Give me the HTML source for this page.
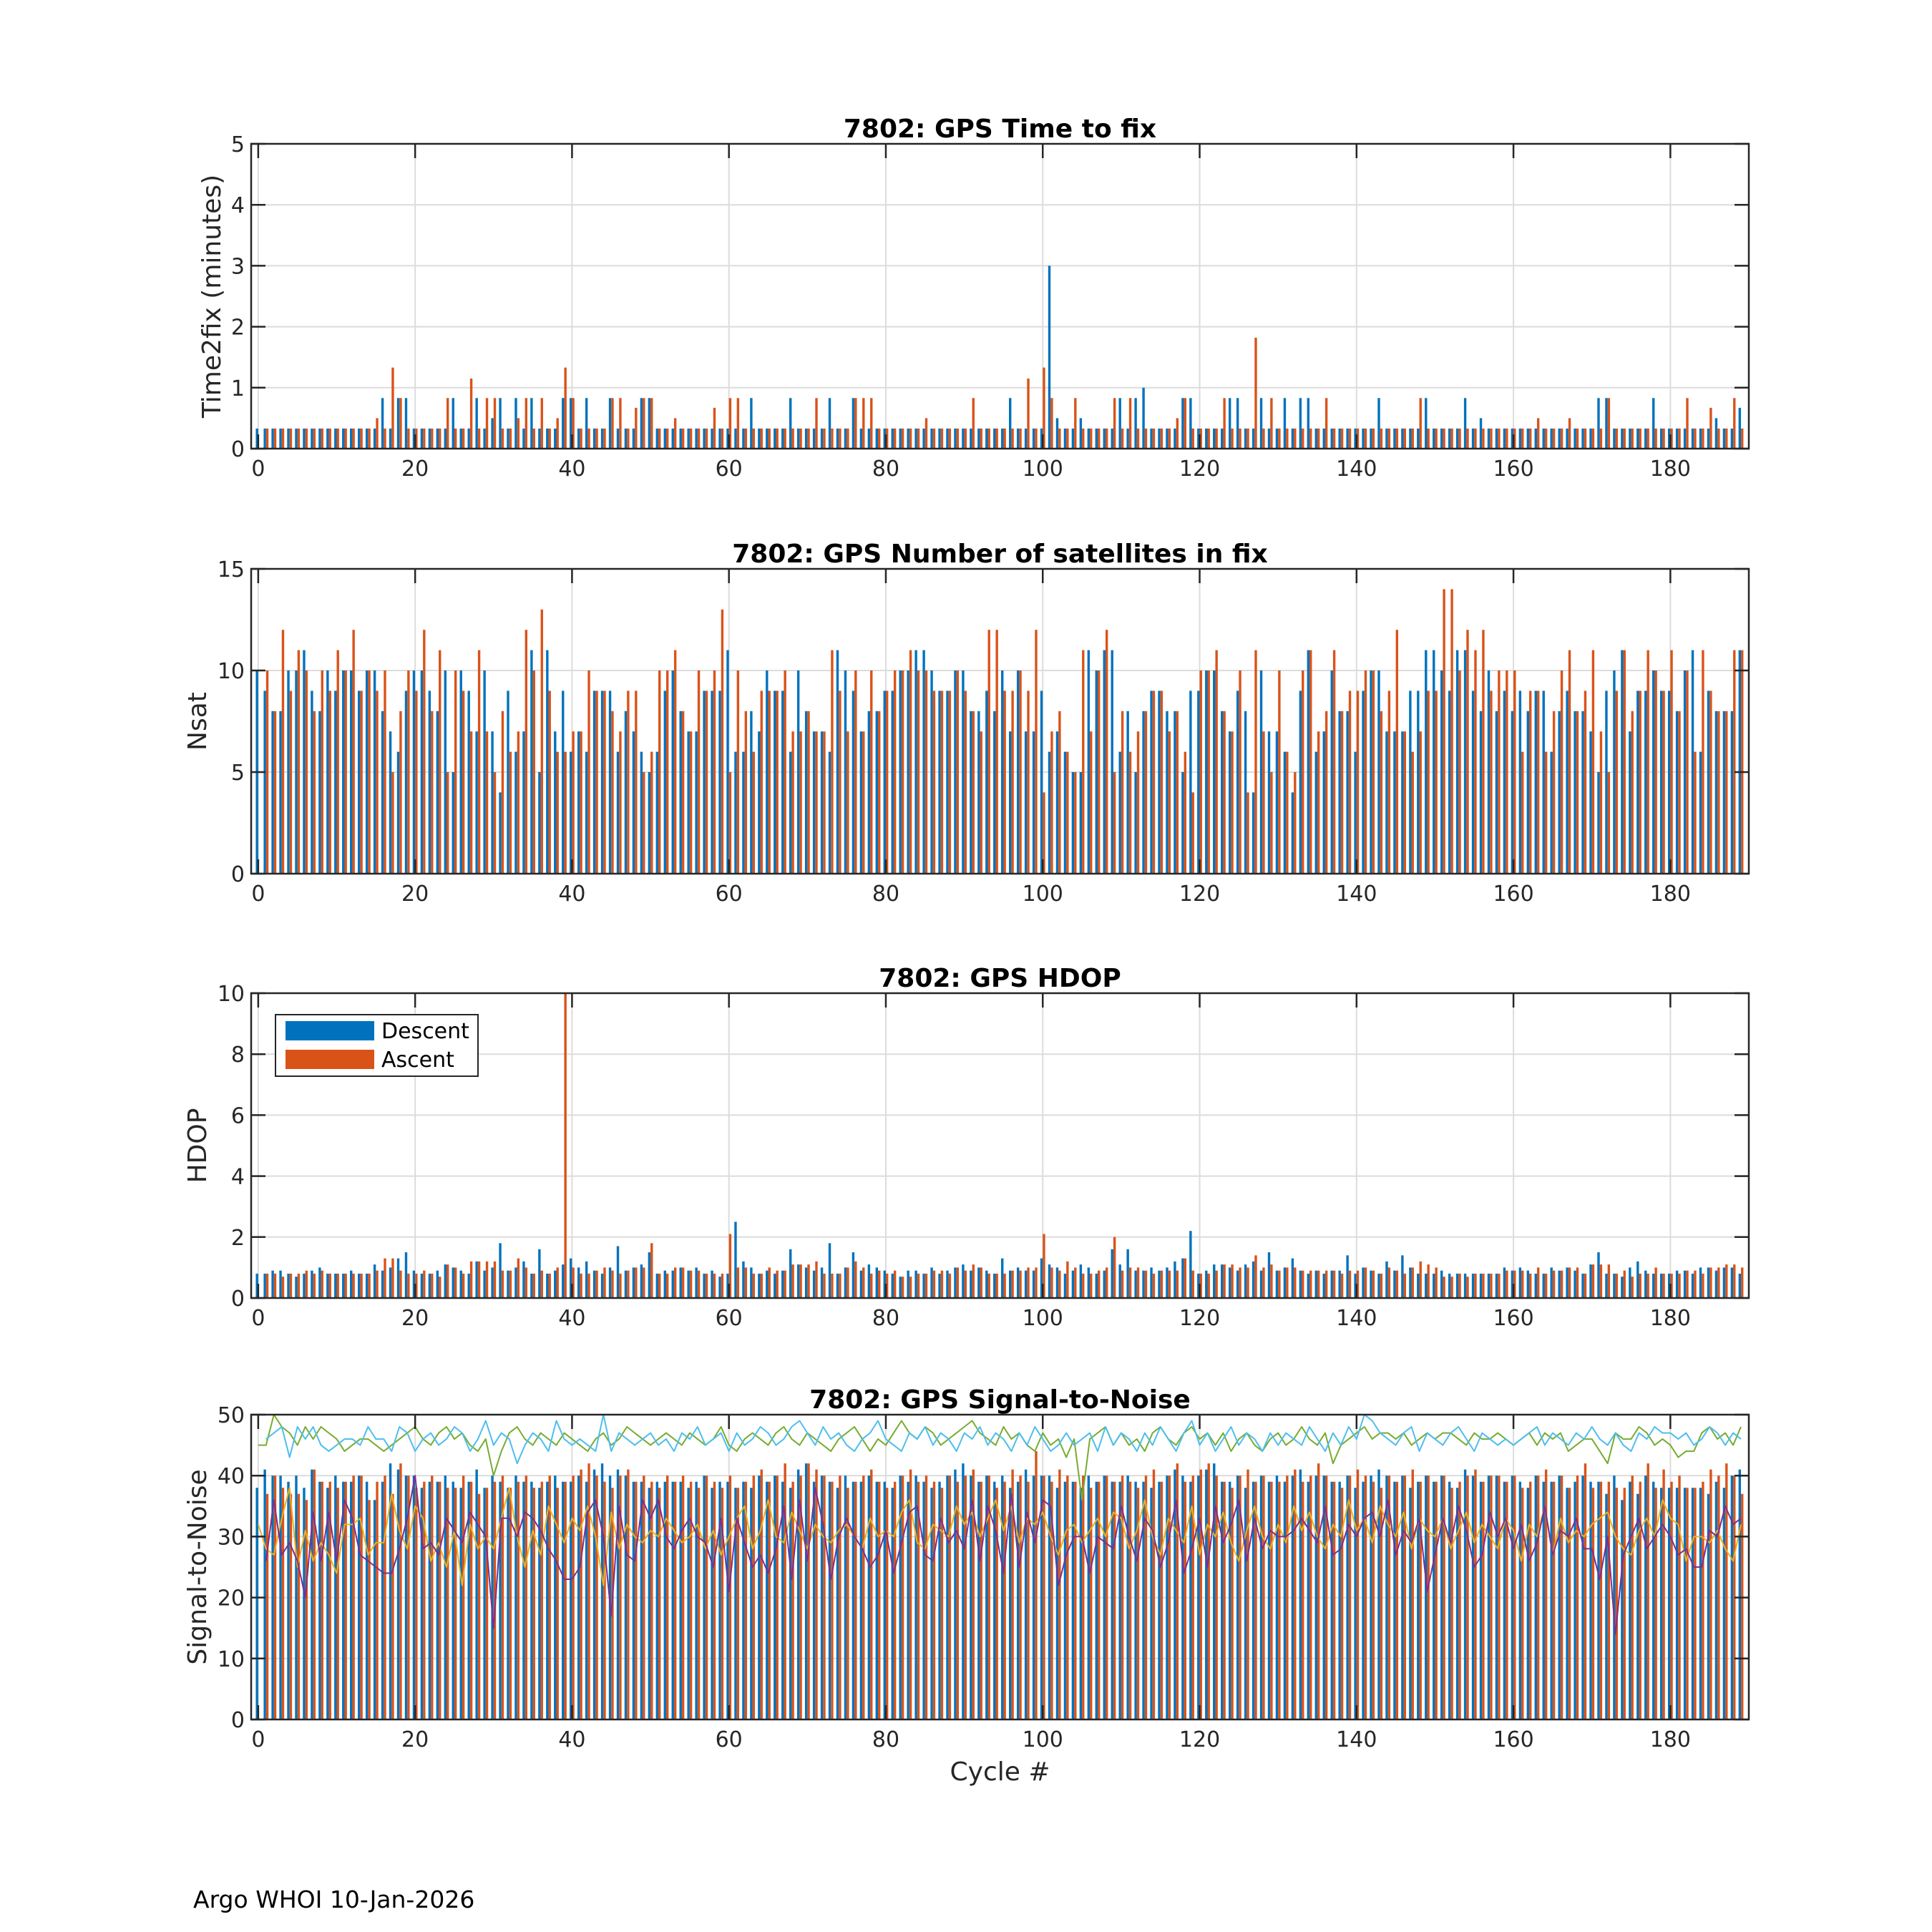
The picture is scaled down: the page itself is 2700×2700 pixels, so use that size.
<!DOCTYPE html>
<html><head><meta charset="utf-8">
<style>
html,body{margin:0;padding:0;background:#fff;}
svg{display:block;font-family:"DejaVu Sans","Liberation Sans",sans-serif;}
</style></head>
<body>
<svg id="fig" width="2700" height="2700" viewBox="0 0 2700 2700" xmlns="http://www.w3.org/2000/svg">
<rect x="0" y="0" width="2700" height="2700" fill="#fff"/>
<text x="270" y="2666" font-size="33" fill="#000">Argo WHOI 10-Jan-2026</text>
</svg>
<script>
// ---------- DATA ----------
const xTicks = [0,20,40,60,80,100,120,140,160,180];
const t2fTicks = [0,1,2,3,4,5];
const nsatTicks = [0,5,10,15];
const hdopTicks = [0,2,4,6,8,10];
const snrTicks = [0,10,20,30,40,50];

const t2fDescent = [
.33,.33,.33,.33,.33,.33,.33,.33,.33,.33,
.33,.33,.33,.33,.33,.33,.83,.33,.83,.83,
.33,.33,.33,.33,.33,.83,.33,.33,.83,.33,
.5,.83,.33,.83,.33,.83,.33,.33,.33,.83,
.83,.33,.83,.33,.33,.83,.33,.33,.33,.83,
.83,.33,.33,.33,.33,.33,.33,.33,.33,.33,
.33,.33,.33,.83,.33,.33,.33,.33,.83,.33,
.33,.33,.33,.83,.33,.33,.83,.33,.33,.33,
.33,.33,.33,.33,.33,.33,.33,.33,.33,.33,
.33,.33,.33,.33,.33,.33,.83,.33,.33,.33,
.33,3.0,.5,.33,.33,.5,.33,.33,.33,.33,
.83,.33,.83,1.0,.33,.33,.33,.33,.83,.83,
.33,.33,.33,.33,.83,.83,.33,.33,.83,.33,
.33,.83,.33,.83,.83,.33,.33,.33,.33,.33,
.33,.33,.33,.83,.33,.33,.33,.33,.33,.83,
.33,.33,.33,.33,.83,.33,.5,.33,.33,.33,
.33,.33,.33,.33,.33,.33,.33,.33,.33,.33,
.33,.83,.83,.33,.33,.33,.33,.33,.83,.33,
.33,.33,.33,.33,.33,.33,.5,.33,.33,.67];
const t2fAscent = [
0,.33,.33,.33,.33,.33,.33,.33,.33,.33,
.33,.33,.33,.33,.33,.5,.33,1.33,.83,.33,
.33,.33,.33,.33,.83,.33,.33,1.15,.33,.83,
.83,.33,.33,.5,.83,.33,.83,.33,.5,1.33,
.83,.33,.33,.33,.33,.83,.83,.33,.67,.83,
.83,.33,.33,.5,.33,.33,.33,.33,.67,.33,
.83,.83,.33,.33,.33,.33,.33,.33,.33,.33,
.33,.83,.33,.33,.33,.33,.83,.83,.83,.33,
.33,.33,.33,.33,.33,.5,.33,.33,.33,.33,
.33,.83,.33,.33,.33,.33,.33,.33,1.15,.33,
1.33,.83,.33,.33,.83,.33,.33,.33,.33,.83,
.33,.83,.33,.33,.33,.33,.33,.5,.83,.33,
.33,.33,.33,.83,.33,.33,.33,1.82,.33,.83,
.33,.33,.33,.33,.33,.33,.83,.33,.33,.33,
.33,.33,.33,.33,.33,.33,.33,.33,.83,.33,
.33,.33,.33,.33,.33,.33,.33,.33,.33,.33,
.33,.33,.33,.5,.33,.33,.33,.5,.33,.33,
.33,.33,.83,.33,.33,.33,.33,.33,.33,.33,
.33,.33,.83,.33,.33,.67,.33,.33,.83,.33];

const nsatDescent = [
10,9,8,8,10,10,11,9,8,10, 9,10,10,9,10,10,8,7,6,9,
10,10,9,8,10,5,10,9,7,10, 7,4,9,6,7,11,5,11,7,9,
6,7,6,9,9,9,6,8,7,6, 5,6,9,10,8,7,7,9,9,9,
11,6,6,8,7,10,9,9,6,10, 8,7,7,6,11,10,9,7,8,8,
9,9,10,10,11,11,10,9,9,10, 10,8,8,9,8,10,7,10,7,7,
9,6,7,6,5,5,11,10,11,11, 6,8,5,8,9,9,8,8,5,9,
9,10,10,8,7,9,8,4,10,7, 7,6,4,9,11,6,7,10,8,8,
6,9,10,10,7,7,7,9,9,11, 11,10,9,11,11,9,8,10,8,9,
8,9,8,9,9,6,8,9,8,8, 7,5,9,10,11,7,9,9,10,9,
9,8,10,11,6,9,8,8,8,11];
const nsatAscent = [
0,10,8,12,9,11,10,8,10,9, 11,10,12,9,10,9,10,5,8,10,
9,12,8,11,5,10,9,7,11,7, 5,8,6,7,12,10,13,9,6,6,
7,7,10,9,9,8,7,9,9,5, 6,10,10,11,8,7,10,9,10,13,
5,10,8,6,9,9,9,10,7,7, 8,7,7,11,9,7,10,7,10,8,
9,10,10,11,10,10,9,9,9,10, 9,8,7,12,12,9,9,10,9,12,
4,7,8,6,5,11,7,10,12,5, 8,6,7,8,9,9,7,8,6,4,
10,10,11,8,7,10,4,11,7,5, 10,6,5,10,11,7,8,11,8,9,
9,10,10,8,9,12,7,6,7,9, 9,14,14,10,12,11,12,9,10,10,
10,6,9,9,6,8,10,11,8,9, 11,7,5,9,11,8,9,11,10,9,
11,8,10,6,11,9,8,8,11,11];

const hdopDescent = [
.8,.8,.9,.9,.8,.7,.8,.9,1.0,.8, .8,.8,.9,.8,.8,1.1,.9,1.0,1.3,1.5,
.9,.8,.8,.9,1.1,1.0,.9,.8,1.2,.9, 1.0,1.8,.9,1.0,1.2,.8,1.6,.8,.9,1.1,
1.3,1.0,1.2,.9,.8,1.0,1.7,.9,1.0,1.1, 1.5,.8,.9,.9,1.0,.9,1.0,.8,.9,.7,
.8,2.5,1.2,1.0,.8,.9,.8,.9,1.6,1.1, 1.0,.9,1.0,1.8,.8,1.0,1.5,.9,1.1,1.0,
.9,.8,.7,.9,.9,.8,1.0,.8,.9,1.0, 1.1,.9,1.0,.9,.8,1.3,.9,1.0,.9,.9,
1.3,1.1,1.0,.8,.9,1.1,1.0,.8,.9,1.6, 1.1,1.6,.9,.9,1.0,.9,1.0,1.2,1.3,2.2,
.8,.9,1.1,1.1,1.0,.9,1.1,1.2,.9,1.5, .9,1.0,1.3,.9,.8,.9,.8,.9,.9,1.4,
.8,1.0,.9,.8,1.2,.9,1.4,1.0,.8,.8, .8,.9,.8,.8,.8,.8,.8,.8,.8,1.0,
.9,1.0,.9,.8,.8,1.0,.9,1.0,.9,.8, 1.1,1.5,.8,.8,.7,1.0,1.2,.9,.8,.8,
.8,.9,.9,.8,1.0,1.0,.9,1.0,1.0,.8];
const hdopAscent = [
0,.8,.8,.7,.8,.8,.9,.8,.9,.8, .8,.8,.8,.8,.8,.9,1.3,1.3,.9,.8,
.8,.9,.8,.7,1.1,1.0,.8,1.2,1.2,1.2, 1.2,.9,.9,1.3,1.0,.8,.9,.8,1.0,10,
1.0,.8,.8,.9,1.0,.9,.8,.9,1.0,1.0, 1.8,.8,.8,1.0,1.0,.9,.9,.8,.8,.8,
2.1,1.0,1.0,.8,.8,1.0,.9,.9,1.1,1.1, 1.1,1.2,.8,.8,.8,1.0,1.2,1.0,.8,.9,
.8,.9,.7,.7,.8,.8,.9,.9,.8,1.0, .9,1.1,1.0,.8,.8,.8,.9,.9,1.0,1.0,
2.1,1.0,.9,1.2,1.0,.8,.8,.9,1.0,2.0, .9,1.0,1.0,.9,.8,.9,.9,.9,1.3,.9,
.8,.8,.9,1.1,1.1,1.0,1.0,1.4,1.0,1.1, .9,1.0,1.0,.9,.9,.9,.9,.9,.8,.9,
.9,1.0,.9,.8,1.0,.9,.8,1.0,1.2,1.1, 1.0,.7,.7,.8,.7,.8,.8,.8,.8,.9,
.9,.9,.8,1.0,.8,.9,.9,1.0,1.0,.8, 1.1,1.1,1.1,.8,.9,.7,.8,.8,1.0,.8,
.8,.8,.9,.9,.8,1.0,1.0,1.1,1.1,1.0];

const snrDescent = [
38,41,40,40,39,40,38,41,39,38, 40,39,39,40,39,36,39,42,41,40,
40,38,39,39,40,39,38,39,41,38, 40,39,38,40,39,39,38,39,40,39,
39,40,39,41,42,40,41,40,39,39, 38,39,39,39,39,38,39,40,38,39,
39,38,39,38,40,39,40,39,38,41, 42,39,40,39,38,40,39,39,40,39,
39,38,40,39,40,39,38,39,40,41, 42,40,39,40,39,40,38,39,41,40,
40,40,38,39,39,38,40,39,40,39, 39,40,39,39,38,39,40,41,40,39,
40,41,42,39,39,40,38,39,40,39, 40,39,40,41,39,40,40,39,39,40,
38,39,40,41,40,39,40,38,39,40, 39,40,39,38,41,40,39,40,40,39,
40,39,38,40,39,39,40,38,39,40, 39,39,37,40,36,39,37,40,39,38,
38,38,38,38,38,37,39,38,40,41];
const snrAscent = [
0,37,40,38,37,37,36,41,39,39, 38,39,40,40,36,39,40,37,42,40,
38,39,40,39,38,38,40,39,37,38, 39,40,38,39,40,38,39,40,38,39,
40,41,42,40,39,38,40,41,39,40, 39,38,40,39,40,39,38,40,39,38,
40,38,39,40,41,39,40,42,39,40, 42,41,40,39,40,38,39,40,41,39,
38,39,40,41,39,40,39,38,40,39, 40,41,39,40,38,39,41,40,39,44,
40,39,41,40,39,40,38,39,40,39, 40,39,38,40,41,39,40,42,39,40,
41,42,40,39,38,40,41,39,40,39, 39,40,41,39,40,42,40,39,38,40,
41,40,39,38,40,39,40,41,39,40, 39,40,38,39,40,41,39,40,40,39,
40,38,39,40,41,39,40,38,40,42, 38,39,39,38,38,40,39,42,38,41,
39,40,38,38,39,41,40,42,40,37];

const snrMaxDescent = [
null,46,47,48,43,48,46,48,45,44, 45,46,46,45,48,46,46,44,48,47,
44,46,47,45,46,48,47,44,46,49, 45,47,46,42,45,47,46,44,49,46,
45,46,45,44,50,44,47,46,45,46, 47,45,46,44,47,46,48,45,46,47,
44,47,45,46,48,47,45,46,48,49, 47,45,48,46,47,45,44,46,47,49,
46,45,44,47,46,48,45,47,46,44, 47,46,48,45,47,46,44,47,45,48,
46,44,45,47,45,46,47,44,48,45, 47,46,44,47,45,48,46,44,47,49,
45,47,44,46,48,45,47,46,44,47, 45,47,46,45,48,46,44,47,45,48,
46,50,49,47,46,45,47,48,44,47, 46,45,47,48,46,44,47,46,45,46,
45,46,47,48,45,47,46,45,47,46, 48,46,45,47,45,44,47,46,48,47,
47,46,47,45,46,48,47,45,47,46];
const snrMaxAscent = [
45,45,50,48,47,45,48,46,48,47, 46,44,45,46,46,45,44,45,46,47,
48,46,45,47,48,46,47,45,44,46, 40,44,47,48,46,45,47,46,45,47,
46,45,44,46,47,45,46,48,47,46, 45,46,47,46,45,47,46,45,46,48,
45,44,46,47,46,45,47,48,46,45, 47,46,45,44,46,47,48,46,44,46,
45,47,49,47,46,48,47,45,46,47, 48,49,47,46,45,48,46,47,45,44,
47,45,46,43,46,36,46,47,48,45, 47,45,46,44,47,48,46,45,47,48,
46,47,45,47,44,46,47,45,44,46, 47,45,46,48,46,45,47,42,45,46,
47,48,46,47,47,46,47,45,46,47, 46,47,47,46,45,47,46,46,47,46,
45,46,47,45,47,46,47,44,45,46, 46,44,42,47,46,46,48,47,45,46,
45,43,44,44,47,48,46,47,45,48];
const snrMeanDescent = [
null,26,36,27,29,26,20,34,26,34, 26,36,33,27,26,25,24,24,28,33,
40,28,29,27,33,31,29,34,32,30, 15,33,33,30,34,33,31,28,26,23,
23,25,34,36,30,17,35,27,26,36, 33,36,30,28,31,33,30,29,25,33,
21,33,29,25,27,24,28,35,23,36, 26,38,32,23,30,33,30,28,25,27,
31,24,29,34,35,27,26,33,29,31, 28,36,26,35,31,24,37,25,34,29,
36,35,22,27,30,30,24,30,29,28, 35,30,26,33,31,25,29,36,24,28,
33,25,35,29,32,36,26,33,28,31, 30,30,31,33,31,29,35,27,28,32,
30,33,34,30,36,27,31,29,33,21, 27,33,29,35,31,25,27,34,30,33,
28,32,26,29,35,27,31,30,33,28, 28,23,30,14,27,30,33,28,30,32,
30,27,28,25,25,31,30,35,32,33];
const snrMeanAscent = [
32,28,27,33,38,25,31,26,29,27, 24,32,32,33,27,29,29,37,31,28,
35,33,26,29,25,31,22,32,28,30, 28,33,38,30,25,31,27,35,32,29,
33,31,35,30,22,34,28,32,30,29, 31,30,33,31,29,30,32,28,31,27,
30,33,35,28,31,36,30,29,34,31, 28,32,30,29,31,32,30,28,33,30,
31,30,34,36,29,28,32,31,30,35, 32,34,30,33,36,31,35,29,33,32,
34,30,27,31,32,29,31,33,30,34, 33,28,31,36,30,27,33,31,29,35,
27,32,30,34,29,26,31,35,30,28, 32,29,35,31,34,30,28,32,30,36,
31,33,29,35,32,30,34,28,33,31, 30,33,28,31,34,29,32,30,28,33,
31,26,32,30,35,27,33,29,31,30, 32,33,34,30,28,27,31,33,30,36,
33,32,26,30,30,29,31,28,26,32];

// ---------- DRAWING ----------
const NS = 'http://www.w3.org/2000/svg';
const svg = document.getElementById('fig');
const L = 351, R = 2444, H = 426;
const XMIN = -0.9, XMAX = 190;
const BLUE = '#0072BD', ORANGE = '#D95319';
function xs(c){ return L + (c - XMIN) * (R - L) / (XMAX - XMIN); }
function mk(tag, attrs, parent){
  const e = document.createElementNS(NS, tag);
  for (const k in attrs) e.setAttribute(k, attrs[k]);
  (parent || svg).appendChild(e);
  return e;
}

function panel(key, top, yMax, yTicks, title, ylabel, ylabelX, descent, ascent, extra){
  const g = mk('g', {});
  
  
  const bottom = top + H;
  const ys = v => bottom - v / yMax * H;
  const clipId = 'clip-' + key;
  const cp = mk('clipPath', {id: clipId}, g);
  mk('rect', {x: L, y: top, width: R - L, height: H}, cp);
  xTicks.forEach(t => {
    const ln = mk('line', {x1: xs(t), x2: xs(t), y1: top, y2: bottom, stroke: '#dcdcdc', 'stroke-width': 2}, g);
    
    
  });
  yTicks.forEach(t => {
    const ln = mk('line', {x1: L, x2: R, y1: ys(t), y2: ys(t), stroke: '#dcdcdc', 'stroke-width': 2}, g);
    
    
  });
  const bw = 3.4;
  const bars = mk('g', {'clip-path': 'url(#' + clipId + ')'}, g);
  descent.forEach((v, c) => {
    if (!v) return;
    const r = mk('rect', {x: xs(c) - bw, y: ys(v), width: bw, height: bottom - ys(v), fill: BLUE}, bars);
    
    
  });
  ascent.forEach((v, c) => {
    if (!v) return;
    const r = mk('rect', {x: xs(c), y: ys(v), width: bw, height: bottom - ys(v), fill: ORANGE}, bars);
    
    
  });
  if (extra) extra(bars, ys);
  const box = mk('rect', {x: L, y: top, width: R - L, height: H, fill: 'none', stroke: '#262626', 'stroke-width': 2.5}, g);
  
  
  const tl = 20;
  xTicks.forEach(t => {
    mk('line', {x1: xs(t), x2: xs(t), y1: bottom, y2: bottom - tl, stroke: '#262626', 'stroke-width': 2.5}, g);
    mk('line', {x1: xs(t), x2: xs(t), y1: top, y2: top + tl, stroke: '#262626', 'stroke-width': 2.5}, g);
    const tx = mk('text', {x: xs(t), y: bottom + 38, 'font-size': 30, fill: '#262626', 'text-anchor': 'middle'}, g);
    tx.textContent = t;
    
    
  });
  yTicks.forEach(t => {
    mk('line', {x1: L, x2: L + tl, y1: ys(t), y2: ys(t), stroke: '#262626', 'stroke-width': 2.5}, g);
    mk('line', {x1: R, x2: R - tl, y1: ys(t), y2: ys(t), stroke: '#262626', 'stroke-width': 2.5}, g);
    const tx = mk('text', {x: L - 9, y: ys(t) + 11, 'font-size': 30, fill: '#262626', 'text-anchor': 'end'}, g);
    tx.textContent = t;
    
    
  });
  const tt = mk('text', {x: (L + R) / 2, y: top - 9, 'font-size': 36, 'font-weight': 'bold', fill: '#000', 'text-anchor': 'middle'}, g);
  tt.textContent = title;
  
  
  const yl = mk('text', {x: 0, y: 0, 'font-size': 36, fill: '#262626', 'text-anchor': 'middle', transform: 'translate(' + ylabelX + ',' + (top + H / 2) + ') rotate(-90)'}, g);
  yl.textContent = ylabel;
  
  
  return {g, ys, bottom};
}

panel('time-to-fix', 201, 5, t2fTicks, '7802: GPS Time to fix', 'Time2fix (minutes)', 308, t2fDescent, t2fAscent);
panel('nsat', 795, 15, nsatTicks, '7802: GPS Number of satellites in fix', 'Nsat', 288, nsatDescent, nsatAscent);
panel('hdop', 1388, 10, hdopTicks, '7802: GPS HDOP', 'HDOP', 288, hdopDescent, hdopAscent);

const lg = mk('g', {});


mk('rect', {x: 385, y: 1418, width: 283, height: 86, fill: '#fff', stroke: '#262626', 'stroke-width': 2}, lg);
mk('rect', {x: 399, y: 1427, width: 124, height: 27, fill: BLUE}, lg);
mk('rect', {x: 399, y: 1467, width: 124, height: 27, fill: ORANGE}, lg);
const le1 = mk('text', {x: 533, y: 1451, 'font-size': 30, fill: '#000'}, lg);
le1.textContent = 'Descent';


const le2 = mk('text', {x: 533, y: 1491, 'font-size': 30, fill: '#000'}, lg);
le2.textContent = 'Ascent';



function drawLine(parent, ys, vals, color, name){
  let d = '';
  let pen = false;
  vals.forEach((v, c) => {
    if (v === null || v === undefined) { pen = false; return; }
    d += (pen ? 'L' : 'M') + xs(c).toFixed(1) + ' ' + ys(v).toFixed(1) + ' ';
    pen = true;
  });
  const p = mk('path', {d: d, fill: 'none', stroke: color, 'stroke-width': 2, 'stroke-linejoin': 'round'}, parent);
  
  
}

panel('snr', 1977, 50, snrTicks, '7802: GPS Signal-to-Noise', 'Signal-to-Noise', 288, snrDescent, snrAscent, (bars, ys) => {
  drawLine(bars, ys, snrMeanAscent, '#EDB120', 'snr-mean-ascent-line');
  drawLine(bars, ys, snrMeanDescent, '#7E2F8E', 'snr-mean-descent-line');
  drawLine(bars, ys, snrMaxAscent, '#77AC30', 'snr-max-ascent-line');
  drawLine(bars, ys, snrMaxDescent, '#4DBEEE', 'snr-max-descent-line');
});
const xl = mk('text', {x: (L + R) / 2, y: 2488, 'font-size': 36, fill: '#262626', 'text-anchor': 'middle'});
xl.textContent = 'Cycle #';


</script>
</body></html>
